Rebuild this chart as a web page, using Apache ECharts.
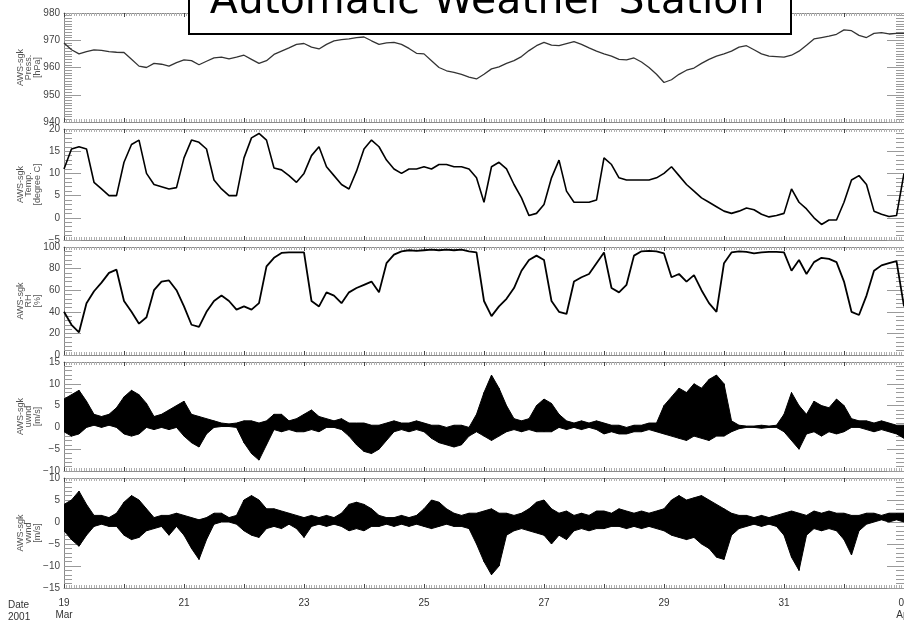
<!DOCTYPE html>
<html>
<head>
<meta charset="utf-8">
<script src="https://cdn.jsdelivr.net/npm/echarts@6/dist/echarts.min.js"></script>
<style>
  html, body { margin: 0; padding: 0; background: #fff; }
  #chart { width: 904px; height: 625px; }
</style>
</head>
<body>
<div id="chart"></div>
<script>
// AWS-sgk record, 2001-03-19 00:00 .. 2001-04-02 00:00, one sample every 3 hours
const STEP_HOURS = 3;

// x tick labels, one per day
const dayTickLabels = ['19\nMar', '', '21', '', '23', '', '25', '', '27', '', '29', '', '31', '', '02\nApr'];

// station pressure [hPa]
const pressure = [
  969.0, 966.5, 965.0, 965.8, 966.5, 966.3, 965.8, 965.6,
  965.5, 963.0, 960.5, 960.0, 961.5, 961.2, 960.5, 961.8,
  962.8, 962.5, 961.0, 962.3, 963.5, 963.8, 963.2, 963.8,
  964.5, 963.0, 961.5, 962.5, 964.8, 966.0, 967.2, 968.5,
  968.8, 967.5, 966.8, 968.5, 969.8, 970.2, 970.5, 971.0,
  971.2, 969.8, 968.5, 969.0, 969.2, 968.5, 967.0, 965.2,
  965.0, 962.5, 960.0, 958.8, 958.2, 957.5, 956.5, 955.8,
  957.5, 959.5, 960.2, 961.5, 962.5, 964.0, 966.2, 968.0,
  969.2, 968.2, 968.0, 968.8, 969.5, 968.5, 967.2, 966.0,
  965.0, 964.2, 963.0, 962.8, 963.5, 962.0, 960.0, 957.5,
  954.5, 955.5, 957.5, 959.0, 959.8, 961.5, 963.0, 964.2,
  965.0, 966.0, 967.5, 968.0, 966.5, 965.0, 964.2, 964.0,
  963.8, 964.5, 966.0, 968.2, 970.5, 971.0, 971.5, 972.2,
  973.8, 973.5, 971.8, 971.0, 972.5, 972.8, 972.3, 972.5,
  972.5
];

// air temperature [degree C]
const temperature = [
  11.0, 15.5, 16.0, 15.5, 8.0, 6.5, 5.0, 5.0,
  12.5, 16.5, 17.5, 10.0, 7.5, 7.0, 6.5, 6.8,
  13.5, 17.5, 17.0, 15.5, 8.5, 6.5, 5.0, 5.0,
  13.5, 18.0, 19.0, 17.5, 11.2, 10.8, 9.5, 8.0,
  10.0, 14.0, 16.0, 11.5, 9.5, 7.5, 6.5, 10.5,
  15.5, 17.5, 16.0, 13.0, 11.0, 10.0, 11.0, 11.0,
  11.5, 11.0, 12.0, 12.0, 11.5, 11.5, 11.0, 9.0,
  3.5, 11.5, 12.5, 11.0, 7.5, 4.5, 0.5, 1.0,
  3.0, 9.0, 13.0, 6.0, 3.5, 3.5, 3.5, 4.0,
  13.5, 12.0, 9.0, 8.5, 8.5, 8.5, 8.5, 9.0,
  10.0, 11.5, 9.5, 7.5, 6.0, 4.5, 3.5, 2.5,
  1.5, 1.0, 1.5, 2.2, 1.8, 0.8, 0.2, 0.5,
  1.0, 6.5, 3.5, 2.0, 0.0, -1.5, -0.5, -0.5,
  3.5, 8.5, 9.5, 7.5, 1.5, 0.8, 0.3, 0.5,
  10.0
];

// relative humidity [%]
const humidity = [
  40, 28, 21, 48, 59, 67, 76, 79,
  50, 40, 29, 35, 60, 68, 69, 60,
  45, 28, 26, 40, 50, 55, 50, 42,
  45, 42, 48, 82, 90, 94.5, 95, 95,
  95, 50, 45, 58, 55, 48, 58, 62,
  65, 68, 58, 85, 93, 96, 97, 96.5,
  97, 97.5, 97, 97.5, 97, 97.5, 96, 95,
  50, 36, 45, 52, 62, 78, 88, 92,
  88, 50, 40, 38, 68, 72, 75, 85,
  95, 62, 58, 65, 92, 96, 96.5, 96,
  94, 72, 75, 68, 74, 60, 48, 40,
  85, 95, 96, 95.5, 94, 95, 95.5, 95.5,
  95, 78, 88, 75, 86, 90, 89, 86,
  68, 40, 37, 55, 78, 83, 85, 87,
  45
];

// zonal wind [m/s]: highest and lowest value within each 3-hour step
const uwndHigh = [
  6.5, 7.5, 8.5, 6, 3, 2.5, 3, 4.5,
  7, 8.5, 7.5, 5.5, 2.5, 3, 4, 5,
  6, 3, 2.5, 2, 1.5, 1, 0.8, 1,
  1.5, 1.5, 1, 1.5, 3, 3, 1.5, 2,
  3, 4, 2.5, 2, 1.5, 2, 1, 1,
  1, 0.5, 0.5, 1, 1.5, 1, 1, 1.5,
  1, 0.5, 0.5, 0, 0.5, 0.5, 0, 3,
  8, 12, 9, 5, 2, 1.5, 2, 5,
  6.5, 5.5, 3, 1.5, 1, 1.5, 1, 1.5,
  1, 0.5, 0.5, 0, 0.5, 0.5, 1, 1,
  5, 7, 9, 8, 10, 9, 11, 12,
  10, 1.5, 0.5, 0.3, 0.3, 0.5, 0.3, 0.5,
  3, 8, 5, 3, 6, 5, 4.5, 6.5,
  5, 2, 1.5, 1.5, 1, 1.5, 1, 0.5,
  0.5
];
const uwndLow = [
  -1, -2, -1.5, 0, 0.5, 0, 0.5, 0,
  -1.5, -2, -1.5, 0, -0.5, 0, -0.5, 0,
  -2, -3.5, -4.5, -1.5, 0, 0.2, 0.2, 0,
  -3.5, -6, -7.5, -4, -0.5, -1, -0.5, -1,
  -1, -0.5, -1, 0, 0, -0.5, -2, -4,
  -5.5, -6, -5, -3, -1, -0.5, -1, -0.5,
  -1, -2.5, -3.5, -4, -4.5, -4, -2, -1,
  -2, -3, -2, -1, -0.5, -1, -0.5, -1,
  -1, -1, 0, -0.5, 0, -0.5, 0, -0.5,
  -1.5, -1, -1.5, -1.5, -1, -1, -0.5, -1,
  -1.5, -2, -2.5, -3, -2, -2.5, -3, -2,
  -2, -1, -0.3, 0, 0, -0.2, 0, 0,
  -1, -3, -5, -1.5, -1, -2, -1, -1.5,
  -1, 0, 0, -0.5, -1, -0.5, -1, -1.5,
  -2.5
];

// meridional wind [m/s]: highest and lowest value within each 3-hour step
const vwndHigh = [
  4, 5, 7, 4, 1.5, 1.5, 1, 2,
  4.5, 6, 5, 3, 1, 1.5, 1.5, 2,
  1.5, 1, 0.5, 1, 2, 2, 1, 1.5,
  5, 6, 5, 3, 3, 2.5, 2, 1.5,
  1, 1.5, 1, 1.5, 1, 2, 4, 4.5,
  4, 3, 1.5, 1, 1, 1.5, 1, 1.5,
  3, 5, 4.5, 3, 2, 1.5, 2, 2,
  2.5, 3, 2, 2, 1.5, 2, 3, 4.5,
  5, 3, 2, 2.5, 1.5, 2, 1.5, 2.5,
  2.5, 2, 3, 2.5, 2, 2.5, 2, 2.5,
  3, 5, 6, 5, 5.5, 6, 5, 4,
  3, 2, 1.5, 1.5, 1, 1.5, 1, 1.5,
  2, 2.5, 2, 1.5, 2.5, 2, 2.5, 2,
  2, 1.5, 1.5, 2, 2, 1.5, 2, 2,
  2
];
const vwndLow = [
  -2, -4, -5.5, -3, -1, -0.5, -1, -1,
  -3, -4, -3.5, -2, -1.5, -1, -3, -1,
  -3, -6, -8.5, -4, -0.5, 0, 0, -0.5,
  -2, -3, -3.5, -1.5, -1, -1.5, -0.5, -1.5,
  -3.5, -1, -0.5, -1, -0.5, -1, -2, -1.5,
  -2, -1, -1, -0.5, -1, -0.5, -1, -0.5,
  -1, -1.5, -1, -0.5, -1, -1, -1.5, -5,
  -9, -12, -10, -3, -2, -1.5, -2, -2.5,
  -3, -5, -3, -4, -2, -1.5, -2, -1.5,
  -1.5, -1, -1, -1.5, -1, -1.5, -1, -1.5,
  -2, -3, -3.5, -4, -3.5, -5, -6, -8,
  -8.5, -3, -1.5, -1, -0.5, -1, -0.5, -1,
  -3, -8, -11, -3, -1.5, -2, -1.5, -2,
  -4, -7.5, -2, -0.5, 0, 0.5, 0, 0.5,
  0
];

// panel layout and value-axis ranges, top to bottom
const panels = [
  { top: 13,  height: 109, min: 940, max: 980, interval: 10, minor: 10, name: 'AWS-sgk\nPress.\n[hPa]' },
  { top: 129, height: 111, min: -5,  max: 20,  interval: 5,  minor: 5,  name: 'AWS-sgk\nTemp.\n[degree C]' },
  { top: 247, height: 108, min: 0,   max: 100, interval: 20, minor: 5,  name: 'AWS-sgk\nRH\n[%]' },
  { top: 362, height: 109, min: -10, max: 15,  interval: 5,  minor: 5,  name: 'AWS-sgk\nuwnd\n[m/s]' },
  { top: 478, height: 110, min: -15, max: 10,  interval: 5,  minor: 5,  name: 'AWS-sgk\nvwnd\n[m/s]' }
];

const LABEL_FONT = '"Liberation Sans", Arial, sans-serif';
const toDays = i => i * STEP_HOURS / 24;
const pairs = arr => arr.map((v, i) => [toDays(i), v]);
const minus = v => String(v).replace('-', '\u2212');

const grids = [], xAxes = [], yAxes = [], graphics = [];

panels.forEach((p, k) => {
  grids.push({ left: 64, right: 0, top: p.top, height: p.height, containLabel: false, outerBoundsMode: 'none' });

  ['bottom', 'top'].forEach(pos => {
    xAxes.push({
      gridIndex: k, type: 'value', min: 0, max: 14, interval: 1, position: pos,
      axisLine: { show: true, onZero: false, lineStyle: { color: '#8a8a8a', width: 1 } },
      axisTick: { show: true, inside: true, length: 4, lineStyle: { color: '#444', width: 1 } },
      minorTick: { show: true, splitNumber: 24, length: 3, lineStyle: { color: '#b0b0b0', width: 1 } },
      splitLine: { show: false },
      axisLabel: {
        show: pos === 'bottom' && k === panels.length - 1,
        margin: 9, fontSize: 10, lineHeight: 12, color: '#333', fontFamily: LABEL_FONT,
        hideOverlap: false, showMinLabel: true, showMaxLabel: true,
        formatter: v => dayTickLabels[Math.round(v)] || ''
      }
    });
  });

  ['left', 'right'].forEach(pos => {
    yAxes.push({
      gridIndex: k, type: 'value', min: p.min, max: p.max, interval: p.interval, position: pos,
      axisLine: { show: true, onZero: false, lineStyle: { color: '#8a8a8a', width: 1 } },
      axisTick: { show: true, inside: true, length: 17, lineStyle: { color: '#9a9a9a', width: 1 } },
      minorTick: { show: true, splitNumber: p.minor, length: 8, lineStyle: { color: '#9a9a9a', width: 1 } },
      splitLine: { show: false },
      axisLabel: {
        show: pos === 'left', margin: 4, fontSize: 10, color: '#444', fontFamily: LABEL_FONT,
        formatter: minus
      }
    });
  });

  graphics.push({
    type: 'text', x: 29, y: p.top + p.height / 2, rotation: Math.PI / 2, z: 50,
    style: {
      text: p.name, textAlign: 'center', textVerticalAlign: 'middle',
      font: '9px "Liberation Sans", Arial, sans-serif', lineHeight: 8.5, fill: '#555'
    }
  });
});

// title box
graphics.push({
  type: 'rect', z: 100,
  shape: { x: 189, y: -10, width: 602, height: 44 },
  style: { fill: '#fff', stroke: '#000', lineWidth: 2 }
});
graphics.push({
  type: 'text', x: 487, y: 2, z: 101,
  style: {
    text: 'Automatic Weather Station', textAlign: 'center', textVerticalAlign: 'middle',
    font: '41px "Comic Sans MS", "DejaVu Sans", sans-serif', fill: '#000'
  }
});
// date caption under the left axis
graphics.push({
  type: 'text', x: 8, y: 599, z: 50,
  style: { text: 'Date\n2001', font: '10px "Liberation Sans", Arial, sans-serif', lineHeight: 12, fill: '#333', textAlign: 'left', textVerticalAlign: 'top' }
});

const lineSeries = (k, data, color, width) => ({
  type: 'line', xAxisIndex: 2 * k, yAxisIndex: 2 * k, data: pairs(data),
  showSymbol: false, symbol: 'none', lineStyle: { color, width }, z: 3
});

// wind spread: each 3-hour step is a filled quad between the low and high envelopes
const bandSeries = (k, low, high) => ({
  type: 'custom', xAxisIndex: 2 * k, yAxisIndex: 2 * k, clip: true, z: 3,
  data: high.map((h, i) => [toDays(i), low[i], h]),
  encode: { x: 0, y: [1, 2] },
  renderItem: (params, api) => {
    const i = params.dataIndex;
    if (i >= high.length - 1) return null;
    const t0 = toDays(i), t1 = toDays(i + 1);
    const pts = [
      api.coord([t0, high[i]]), api.coord([t1, high[i + 1]]),
      api.coord([t1, low[i + 1]]), api.coord([t0, low[i]])
    ];
    return {
      type: 'polygon', shape: { points: pts },
      style: { fill: '#000', stroke: '#000', lineWidth: 1 }
    };
  }
});

const chart = echarts.init(document.getElementById('chart'), null, { renderer: 'canvas' });
chart.setOption({
  animation: false,
  backgroundColor: '#fff',
  grid: grids,
  xAxis: xAxes,
  yAxis: yAxes,
  graphic: graphics,
  series: [
    lineSeries(0, pressure, '#333', 1.3),
    lineSeries(1, temperature, '#000', 1.6),
    lineSeries(2, humidity, '#000', 1.8),
    bandSeries(3, uwndLow, uwndHigh),
    bandSeries(4, vwndLow, vwndHigh)
  ]
});
</script>
</body>
</html>
